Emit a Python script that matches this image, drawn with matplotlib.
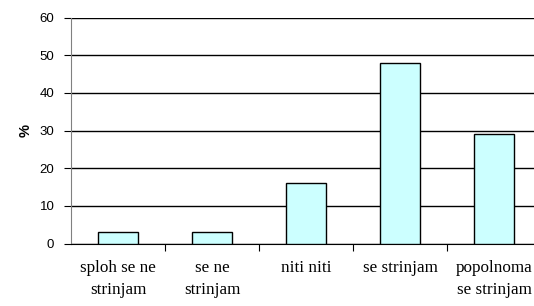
import matplotlib.pyplot as plt
import numpy as np

categories = ['sploh se ne\nstrinjam', 'se ne\nstrinjam', 'niti niti',
              'se strinjam', 'popolnoma\nse strinjam']
values = [3, 3, 16, 48, 29]
yticks = [0, 10, 20, 30, 40, 50, 60]

fig = plt.figure(figsize=(5.34, 3.06), dpi=100)
# the original chart is cropped on the right, so the axes run past the figure edge
ax = fig.add_axes([71 / 534, 1 - 243.5 / 306, 470 / 534, 226 / 306])

x = np.arange(len(categories))
ax.bar(x, values, width=0.42, color='#ccffff', edgecolor='black', linewidth=1, zorder=3)

ax.set_xlim(-0.5, len(categories) - 0.5)
ax.set_ylim(0, 60)
ax.set_yticks(yticks)
ax.set_yticklabels([str(t) for t in yticks], fontfamily='Liberation Sans', fontsize=9.5)
ax.yaxis.grid(True, color='black', linewidth=1, zorder=0)

ax.set_xticks(x[:-1] + 0.5)
ax.set_xticklabels([])
ax.set_xticks(x, minor=True)
ax.set_xticklabels(categories, minor=True, fontfamily='Liberation Serif', fontsize=12.3,
                   linespacing=1.45)
ax.tick_params(axis='x', which='minor', length=0, pad=12)
ax.tick_params(axis='x', which='major', length=5, direction='out')
ax.tick_params(axis='y', length=5, direction='out', pad=7)

for side in ['top', 'right']:
    ax.spines[side].set_visible(False)
ax.spines['left'].set_color('#808080')

ax.set_ylabel('%', fontfamily='Liberation Sans', fontsize=10.5, fontweight='bold', labelpad=5)

fig.savefig('out.png', dpi=100)
